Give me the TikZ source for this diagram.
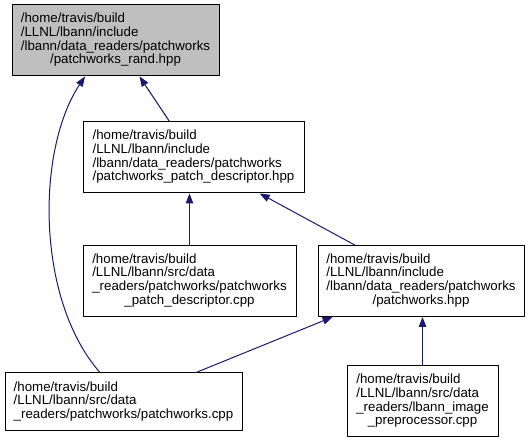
\documentclass[tikz,border=0pt]{standalone}
\usepackage{fontspec}
\setmainfont{Liberation Sans}
\usetikzlibrary{arrows.meta}
\definecolor{edgeblue}{HTML}{191970}
\definecolor{focusgray}{HTML}{BFBFBF}
\newcommand{\flines}[1]{\begin{tabular}{@{}l@{}}#1\end{tabular}}
\newcommand{\ctrline}[1]{\multicolumn{1}{@{}c@{}}{#1}}

\begin{document}
\begin{tikzpicture}[
  x=1pt, y=-1pt,
  every node/.style={font=\fontsize{13.3}{13.6}\selectfont},
  file/.style={draw, line width=1pt, inner sep=0pt, minimum height=71pt, fill=white},
  focus/.style={file, fill=focusgray},
  edge/.style={draw=edgeblue, line width=1pt, -{Triangle[length=10pt, width=7.5pt]}}
]
\useasboundingbox (0,0) rectangle (531,443);
\node[focus, minimum width=207pt] (rand) at (115.5,40.5) {\flines{/home/travis/build\\/LLNL/lbann/include\\/lbann/data\_readers/patchworks\\\ctrline{/patchworks\_rand.hpp}}};
\node[file, minimum width=221pt] (descriptor) at (193.5,157.5) {\flines{/home/travis/build\\/LLNL/lbann/include\\/lbann/data\_readers/patchworks\\\ctrline{/patchworks\_patch\_descriptor.hpp}}};
\node[file, minimum width=213pt] (descriptorcpp) at (189.5,281) {\flines{/home/travis/build\\/LLNL/lbann/src/data\\\_readers/patchworks/patchworks\\\ctrline{\_patch\_descriptor.cpp}}};
\node[file, minimum width=206pt] (patchworks) at (421,281) {\flines{/home/travis/build\\/LLNL/lbann/include\\/lbann/data\_readers/patchworks\\\ctrline{/patchworks.hpp}}};
\node[file, minimum width=237pt, minimum height=58pt] (patchworkscpp) at (123.5,402) {\flines{/home/travis/build\\/LLNL/lbann/src/data\\\ctrline{\_readers/patchworks/patchworks.cpp}}};
\node[file, minimum width=151pt] (preproc) at (422.5,401.5) {\flines{/home/travis/build\\/LLNL/lbann/src/data\\\_readers/lbann\_image\\\ctrline{\_preprocessor.cpp}}};
% edges point from includer to included file
\draw[edge] (descriptor) -- (rand);
\draw[edge] ([xshift=-23.5pt]patchworkscpp.north) .. controls (36,300) and (36,150) .. ([xshift=-30.5pt]rand.south);
\draw[edge] (descriptorcpp) -- (descriptorcpp |- descriptor.south);
\draw[edge] (patchworks) -- (descriptor);
\draw[edge] (patchworkscpp) -- (patchworks);
\draw[edge] (preproc) -- (preproc |- patchworks.south);
\end{tikzpicture}
\end{document}
